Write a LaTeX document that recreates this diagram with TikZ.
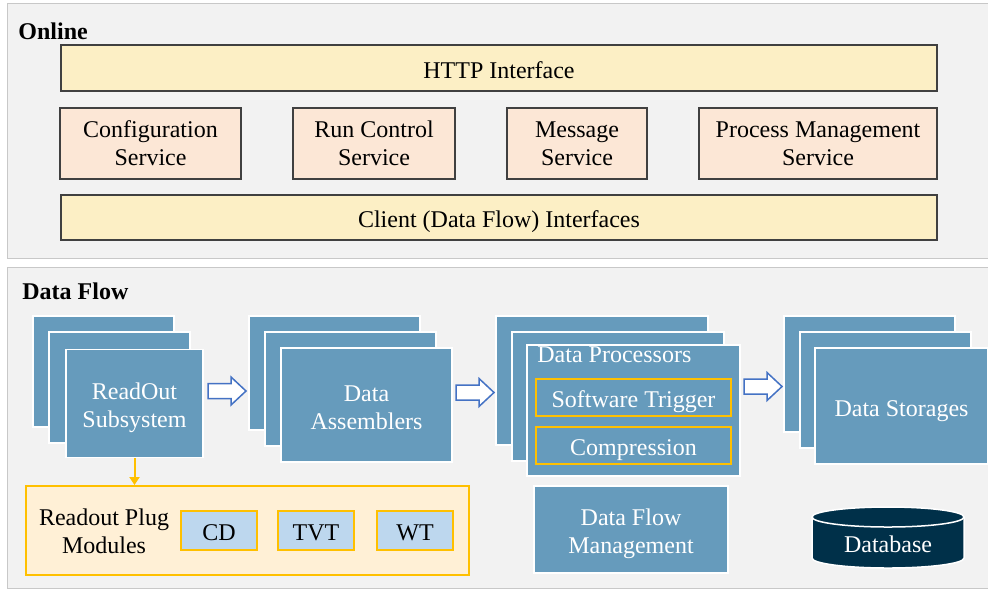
\documentclass[tikz,border=0pt]{standalone}
\usepackage{fontspec}
\setmainfont{Liberation Serif}[BoldFont={Liberation Serif Bold}]
\usetikzlibrary{arrows.meta}

\definecolor{panelgray}{HTML}{F2F2F2}
\definecolor{panelline}{HTML}{C8C8C8}
\definecolor{ifyellow}{HTML}{FCEFC5}
\definecolor{svcpeach}{HTML}{FCE7D6}
\definecolor{plugpeach}{HTML}{FFF0D6}
\definecolor{flowblue}{HTML}{669BBC}
\definecolor{modblue}{HTML}{BDD7EE}
\definecolor{gold}{HTML}{FFC000}
\definecolor{dbnavy}{HTML}{003049}
\definecolor{arrowblue}{HTML}{4472C4}

\tikzset{
  panel/.style={fill=panelgray, draw=panelline, line width=0.5pt},
  boxtext/.style={font=\fontsize{12}{14}\selectfont, inner sep=0pt,
    execute at begin node={\rule{0pt}{13pt}}, execute at end node={\rule[-3pt]{0pt}{0pt}}},
  twoline/.style={align=center, execute at begin node={\rule{0pt}{#1}}},
  twoline/.default=27pt,
  ifbox/.style={boxtext, draw=black!75, fill=ifyellow, line width=0.75pt, align=center},
  svcbox/.style={boxtext, twoline=25pt, draw=black!75, fill=svcpeach, line width=0.75pt},
  stackfill/.style={fill=flowblue, draw=white, line width=0.75pt},
  flowbox/.style={stackfill, boxtext, text=white, align=center},
  trigbox/.style={boxtext, draw=gold, line width=1pt, text=white},
  modbox/.style={boxtext, draw=gold, fill=modblue, line width=1pt},
  blockarrow/.style={draw=arrowblue, fill=white, line width=0.75pt},
  title/.style={font=\fontsize{12}{14}\selectfont\bfseries, anchor=west, inner sep=0pt}
}

% block arrow: left end x, centre y
\newcommand{\blockarrow}[2]{%
  \draw[blockarrow] (#1,#2-7.5) -- ++(23,0) -- ++(0,-6.5) -- (#1+38,#2)
    -- (#1+23,#2+14) -- ++(0,-6.5) -- (#1,#2+7.5) -- cycle;}

\begin{document}
\begin{tikzpicture}[x=0.5pt, y=-0.5pt]
\useasboundingbox (0,0) rectangle (988,590);

% Panels
\draw[panel] (7,3) rectangle (988,258);
\draw[panel] (7,267) rectangle (988,588);
\node[title] (online) at (18,31) {Online};
\node[title] (dataflow) at (22,291) {Data Flow};

% Online services
\node[ifbox, minimum width=438pt, minimum height=23pt] (http) at (499,68) {HTTP Interface};
\node[svcbox, minimum width=90.5pt, minimum height=35.5pt] (conf) at (150.5,143.5) {Configuration\\Service};
\node[svcbox, minimum width=81pt, minimum height=35.5pt] (run) at (374,143.5) {Run Control\\Service};
\node[svcbox, minimum width=70pt, minimum height=35.5pt] (msg) at (577,143.5) {Message\\Service};
\node[svcbox, minimum width=119pt, minimum height=35.5pt] (pm) at (818,143.5) {Process Management\\Service};
\node[ifbox, minimum width=438pt, minimum height=22.5pt] (client) at (499,217.5) {Client (Data Flow) Interfaces};

% ReadOut stack
\draw[stackfill] (33,316) rectangle (174,427);
\draw[stackfill] (49,332) rectangle (190,443);
\node[flowbox, twoline, minimum width=68.5pt, minimum height=54pt] (ro) at (134.5,403.5) {ReadOut\\Subsystem};

% Data Assemblers stack
\draw[stackfill] (249,316) rectangle (420,430);
\draw[stackfill] (265,332) rectangle (436,446);
\node[flowbox, twoline, minimum width=85.5pt, minimum height=57pt] (da) at (366.5,405) {Data\\Assemblers};

% Data Processors stack
\draw[stackfill] (496,316) rectangle (708,445);
\draw[stackfill] (512,332) rectangle (724,461);
\node[stackfill, minimum width=106.5pt, minimum height=65.5pt, inner sep=0pt] (dp) at (633.5,410.5) {};
\node[text=white, font=\fontsize{12}{14}\selectfont, anchor=west, inner sep=0pt] (dplabel) at (537,355) {Data Processors};
\node[trigbox, minimum width=97.5pt, minimum height=18.5pt] (trig) at (633.5,397.5) {Software Trigger};
\node[trigbox, minimum width=97.5pt, minimum height=18.5pt] (comp) at (633.5,445.5) {Compression};

% Data Storages stack
\draw[stackfill] (784,316) rectangle (955,432);
\draw[stackfill] (800,332) rectangle (971,448);
\node[flowbox, minimum width=86.5pt, minimum height=58pt] (ds) at (901.5,406) {Data Storages};

% Flow arrows
\blockarrow{208}{391}
\blockarrow{456}{392.5}
\blockarrow{744}{386.5}

% Data Flow Management
\node[flowbox, twoline, minimum width=97pt, minimum height=43.5pt] (dfm) at (631,529.5) {Data Flow\\Management};

% Database
\fill[dbnavy] (812,517) -- (812,558) arc[start angle=180, end angle=360, x radius=38pt, y radius=5pt]
  -- (964,517) arc[start angle=0, end angle=180, x radius=38pt, y radius=5pt] -- cycle;
\draw[white, line width=0.75pt] (812,517) -- (812,558) arc[start angle=180, end angle=360, x radius=38pt, y radius=5pt]
  -- (964,517);
\draw[white, line width=0.75pt] (888,517) ellipse[x radius=38pt, y radius=5pt];
\node[text=white, font=\fontsize{12}{14}\selectfont, inner sep=0pt] (db) at (888,544) {Database};

% Readout plug modules
\node[draw=gold, fill=plugpeach, line width=1pt, minimum width=221.5pt, minimum height=44.5pt, inner sep=0pt] (plug) at (247.5,530.5) {};
\node[font=\fontsize{12}{14}\selectfont, align=center, inner sep=0pt] (pluglabel) at (104,531) {Readout Plug\\Modules};
\node[modbox, minimum width=38pt, minimum height=19.5pt] (cd) at (219,530.5) {CD};
\node[modbox, minimum width=38pt, minimum height=19.5pt] (tvt) at (316,530.5) {TVT};
\node[modbox, minimum width=38pt, minimum height=19.5pt] (wt) at (415,530.5) {WT};

\draw[gold, line width=1pt, -{Triangle[width=5pt, length=4pt]}] (ro.south) -- (ro.south |- plug.north);
\end{tikzpicture}
\end{document}
